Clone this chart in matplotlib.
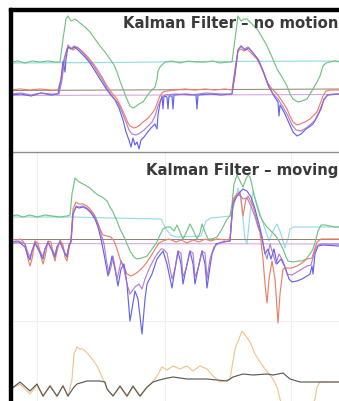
import matplotlib.pyplot as plt
from matplotlib.patches import Rectangle
from matplotlib.lines import Line2D

# ---- still sensor (top) : time index vs reading ----
still_green_t = [0, 7, 14, 21, 29, 37, 44, 49, 52, 55, 57, 60, 64, 69, 74, 79, 84, 89, 94, 99, 103, 106,
                 109, 112, 115, 119, 122, 124, 128, 132, 136, 139, 144, 146, 147, 149, 151, 154, 161, 169,
                 177, 185, 194, 202, 209, 217, 221, 224, 227, 230, 233, 236, 241, 246, 251, 256, 261, 266,
                 271, 276, 279, 282, 287, 291, 296, 299, 302, 306, 309, 312, 315, 319, 324, 328]
still_green_v = [28, 29, 27, 29, 28, 29, 28, 28, 51, 71, 74, 69, 71, 67, 63, 58, 51, 44, 38, 31, 25, 18,
                 9, 1, -7, -16, -18, -17, -14, -12, -6, -2, 3, 11, 19, 23, 25, 28, 29, 27,
                 29, 28, 28, 29, 27, 28, 28, 51, 74, 69, 71, 71, 66, 61, 53, 44, 33, 21,
                 13, 4, -4, -9, -12, -11, -9, -4, 1, 8, 14, 24, 27, 28, 29, 28]

still_cyan_t = [0, 100, 200, 328]
still_cyan_v = [27, 27.5, 28.5, 29]

still_red_t = [0, 9, 19, 29, 39, 47, 50, 53, 56, 59, 62, 66, 71, 76, 81, 86, 91, 96, 101, 106, 110, 114,
               117, 119, 123, 126, 129, 132, 136, 139, 142, 144, 147, 149, 152, 156, 164, 174, 184, 194,
               204, 214, 221, 224, 227, 230, 233, 236, 241, 246, 251, 256, 261, 266, 271, 276, 279, 282,
               286, 289, 294, 299, 303, 306, 309, 312, 315, 319, 328]
still_red_v = [0, 1, 0, 1, 0, 0, 11, 31, 41, 43, 40, 43, 39, 34, 28, 21, 13, 4, -3, -9, -17, -26,
               -33, -36, -38, -37, -35, -32, -29, -26, -22, -19, -11, -6, -2, -1, 0, 1, 0, 1,
               0, 1, 0, 21, 39, 41, 39, 41, 36, 31, 21, 8, 1, -4, -11, -19, -26, -32,
               -35, -34, -32, -29, -25, -22, -14, -6, -1, 0, 0]

still_purple_t = [0, 10, 20, 30, 40, 48, 51, 54, 57, 60, 63, 67, 72, 77, 82, 87, 92, 97, 102, 107, 111,
                  115, 118, 121, 125, 129, 133, 137, 141, 144, 147, 150, 154, 165, 180, 195, 210, 221,
                  224, 227, 230, 233, 237, 242, 247, 252, 257, 262, 267, 272, 277, 281, 285, 290, 295,
                  300, 304, 308, 312, 316, 322, 328]
still_purple_v = [-4, -3, -5, -3, -4, -4, 10, 33, 45, 41, 44, 42, 37, 31, 25, 17, 9, 0, -7, -13, -22,
                  -32, -40, -44, -45, -43, -40, -36, -32, -26, -16, -9, -5, -4, -5, -3, -4, -4,
                  18, 40, 44, 41, 43, 37, 31, 19, 5, -4, -9, -17, -26, -35, -40, -41, -38,
                  -34, -30, -22, -12, -5, -4, -4]

still_blue_t = [0, 10, 20, 30, 40, 47, 50, 52, 54, 55, 57, 60, 64, 69, 74, 79, 84, 89, 94, 99, 104, 108,
                112, 115, 118, 120, 122, 124, 126, 128, 130, 133, 136, 140, 144, 146, 147, 149, 151, 152,
                153, 156, 157, 158, 161, 162, 163, 175, 185, 186, 187, 200, 210, 221, 224, 227, 230, 234,
                238, 243, 248, 253, 258, 263, 267, 268, 269, 273, 278, 282, 286, 290, 294, 298, 302, 306,
                310, 313, 317, 328]
still_blue_v = [-5, -4, -6, -3, -5, -4, 10, 29, 18, 31, 43, 41, 43, 38, 33, 27, 19, 11, 3, -4, -10, -18,
                -30, -42, -50, -57, -48, -55, -52, -59, -50, -47, -43, -38, -34, -39, -25, -13, -6, -19,
                -6, -7, -19, -6, -6, -19, -5, -4, -5, -19, -5, -4, -5, -4, 15, 40, 44, 40,
                42, 36, 29, 17, 3, -6, -12, -26, -15, -22, -33, -42, -46, -44, -40, -37, -34, -27,
                -19, -9, -5, -4]

still_gray_t = [0, 328]
still_gray_v = [-0.5, 1]
still_plum_t = [0, 328]
still_plum_v = [-5.5, -4.5]

# ---- moving sensor (bottom) ----
move_green_t = [0, 6, 12, 19, 26, 34, 41, 49, 56, 59, 61, 64, 67, 70, 74, 79, 83, 87, 91, 96, 99, 102, 106,
                109, 114, 119, 123, 126, 131, 136, 141, 146, 149, 152, 156, 159, 163, 166, 169, 172, 175,
                179, 183, 186, 189, 191, 194, 197, 201, 206, 211, 216, 219, 221, 223, 226, 229, 232, 235,
                237, 239, 241, 243, 246, 249, 253, 256, 260, 264, 268, 272, 275, 277, 282, 287, 291, 295,
                299, 302, 305, 307, 310, 314, 319, 324, 328]
move_green_v = [23, 24, 22, 24, 22, 24, 23, 22, 23, 24, 45, 61, 58, 56, 54, 51, 47, 44, 42, 38, 32, 27, 18,
                10, 0, -12, -18, -20, -19, -17, -10, -3, 4, 10, 12, 12, 8, 14, 7, 0, 6,
                15, 7, 0, 6, 15, 7, 0, 0, 2, 10, 20, 23, 35, 55, 64, 58, 52, 60,
                64, 62, 54, 44, 33, 23, 16, 12, 8, 4, -2, -10, -18, -22, -23, -22, -22, -20,
                -15, -10, 0, 8, 14, 14, 13, 12, 12]

move_cyan_t = [0, 60, 100, 150, 155, 160, 165, 190, 195, 200, 210, 219, 222, 227, 230, 234, 236, 239, 242,
               246, 250, 254, 258, 262, 266, 270, 274, 277, 279, 282, 328]
move_cyan_v = [22, 22, 21, 20, 10, 4, 2, 3, 18, 21, 22, 23, 30, 51, 40, 0, -5, 25, 48,
               35, 22, 10, -2, 8, 15, 5, -9, 0, 10, 12, 12]

move_red_t = [0, 5, 10, 14, 17, 19, 21, 24, 27, 30, 32, 34, 37, 40, 42, 44, 46, 49, 52, 54, 56, 58, 60,
              62, 65, 68, 72, 76, 79, 83, 86, 89, 92, 96, 100, 103, 106, 109, 113, 116, 120, 124, 128,
              132, 136, 140, 144, 148, 152, 158, 165, 170, 176, 182, 188, 194, 200, 206, 214, 219, 222,
              226, 229, 232, 235, 237, 242, 249, 252, 254, 256, 258, 261, 264, 267, 269, 272, 276, 281,
              286, 291, 296, 301, 303, 306, 310, 328]
move_red_v = [0, -1, 0, -5, -20, -27, -20, -2, -4, -18, -25, -18, -2, -3, -15, -22, -12, -1, -6, -18, -22,
              -10, 0, 30, 37, 35, 35, 33, 30, 25, 18, 10, 4, 3, 2, -2, -10, -20, -28, -35, -37, -35, -32,
              -28, -23, -17, -10, -4, -2, 0, -3, -1, -4, -1, -3, 0, -2, 0, -1, 0, 40,
              45, 47, 23, 40, 43, 33, 7, -20, -45, -64, -40, -22, -40, -84, -55, -30, -29, -29,
              -27, -24, -20, -19, -12, -3, 0, 0]

move_purple_t = [0, 8, 14, 17, 19, 21, 24, 30, 32, 34, 37, 42, 44, 46, 49, 54, 56, 58, 60, 62, 65, 68, 72,
                 76, 80, 84, 87, 90, 93, 96, 98, 100, 102, 104, 106, 108, 110, 113, 116, 119, 124, 128,
                 131, 134, 138, 142, 146, 150, 152, 156, 161, 164, 167, 170, 172, 175, 179, 182, 184,
                 187, 191, 194, 196, 199, 203, 208, 212, 219, 222, 226, 229, 232, 236, 240, 244, 247,
                 250, 253, 256, 259, 262, 265, 268, 272, 276, 281, 286, 291, 296, 300, 303, 306, 310, 328]
move_purple_v = [-3, -2, -5, -14, -18, -12, -3, -14, -17, -10, -3, -12, -16, -8, -3, -14, -16, -6, -3, 25,
                 33, 32, 33, 31, 27, 22, 15, 5, -5, -25, -35, -28, -17, -28, -40, -32, -22, -30, -45,
                 -55, -48, -45, -50, -40, -30, -22, -15, -10, -10, -14, -40, -30, -12, -14, -38, -30,
                 -12, -14, -38, -30, -12, -14, -40, -20, -8, -4, -3, -2, 38, 43, 44, 40, 41, 33, 22,
                 12, 5, -10, -20, -5, -15, -25, -15, -22, -35, -36, -33, -30, -27, -26, -15, -7, -5, -5]

move_blue_t = [0, 8, 14, 17, 19, 21, 24, 30, 32, 34, 37, 42, 44, 46, 49, 54, 56, 58, 60, 62, 65, 68, 72,
               76, 80, 84, 87, 90, 93, 97, 101, 104, 107, 110, 113, 116, 119, 124, 127, 131, 134, 136,
               141, 146, 152, 156, 161, 164, 167, 170, 172, 175, 179, 182, 184, 187, 191, 194, 196, 199,
               201, 205, 212, 219, 222, 226, 229, 232, 236, 240, 244, 248, 251, 254, 257, 260, 263, 266,
               270, 274, 278, 281, 286, 291, 296, 299, 301, 302, 304, 307, 312, 328]
move_blue_v = [-3, -3, -8, -17, -21, -12, -4, -16, -20, -10, -3, -14, -18, -8, -3, -15, -18, -6, -3, 25,
               32, 31, 32, 30, 26, 20, 12, 0, -15, -37, -17, -30, -47, -30, -25, -45, -82, -52, -60,
               -95, -60, -45, -35, -20, -12, -25, -49, -30, -12, -25, -45, -30, -12, -25, -45, -30,
               -12, -25, -49, -28, -15, -5, -3, -2, 35, 43, 47, 50, 48, 42, 30, 15, 2, -15, -10,
               -20, -10, -25, -20, -28, -40, -43, -42, -40, -37, -35, -27, -35, -15, -7, -6, -7]

move_gray_t = [0, 328]
move_gray_v = [0.5, 0.5]
move_plum_t = [0, 328]
move_plum_v = [-4.5, -5]

move_orange_t = [0, 9, 19, 26, 32, 39, 46, 52, 57, 61, 63, 66, 69, 72, 79, 86, 92, 96, 102, 109, 116, 122,
                 129, 135, 140, 146, 151, 156, 162, 169, 176, 182, 189, 196, 202, 209, 219, 224, 228, 231,
                 235, 239, 244, 249, 254, 258, 262, 266, 269, 272, 300, 304, 306, 309, 328]
move_orange_v = [-150, -145, -155, -146, -158, -146, -158, -146, -158, -140, -115, -108, -110, -110, -117,
                 -127, -140, -150, -157, -148, -158, -148, -158, -150, -145, -137, -128, -131, -127, -130,
                 -127, -132, -127, -130, -137, -143, -140, -110, -100, -92, -97, -103, -115, -123, -130,
                 -135, -140, -148, -160, -170, -170, -160, -148, -143, -143]

move_dark_t = [0, 9, 19, 26, 32, 39, 46, 52, 57, 63, 66, 76, 89, 94, 96, 102, 109, 116, 122, 129, 136, 142,
               152, 162, 176, 196, 216, 222, 232, 242, 256, 262, 272, 279, 289, 309, 328]
move_dark_v = [-150, -143, -152, -145, -157, -147, -157, -147, -157, -148, -145, -142, -142, -143, -150,
               -157, -147, -157, -147, -157, -148, -143, -140, -138, -140, -140, -142, -138, -135, -136,
               -135, -136, -134, -140, -143, -143, -143]

W, H = 339, 402
fig = plt.figure(figsize=(W / 100, H / 100), dpi=100)
fig.patch.set_facecolor('white')

ax1 = fig.add_axes([11 / W, 1 - 152 / H, 328 / W, 141 / H])
ax2 = fig.add_axes([11 / W, 0, 328 / W, 249 / H])

lw = 0.85
c_green, c_cyan, c_red = '#74c283', '#95dce8', '#ec8068'
c_blue, c_purple = '#6464ee', '#a66ac6'
c_gray, c_plum = '#8c8070', '#d6a8e0'

ax1.plot(still_cyan_t, still_cyan_v, color=c_cyan, lw=lw)
ax1.plot(still_gray_t, still_gray_v, color=c_gray, lw=0.7)
ax1.plot(still_plum_t, still_plum_v, color=c_plum, lw=0.8)
ax1.plot(still_green_t, still_green_v, color=c_green, lw=lw)
ax1.plot(still_red_t, still_red_v, color=c_red, lw=lw)
ax1.plot(still_blue_t, still_blue_v, color=c_blue, lw=lw)
ax1.plot(still_purple_t, still_purple_v, color=c_purple, lw=lw, alpha=0.85)
ax1.set_xlim(0, 328)
ax1.set_ylim(-61, 80)

ax2.plot(move_cyan_t, move_cyan_v, color=c_cyan, lw=lw)
ax2.plot(move_gray_t, move_gray_v, color=c_gray, lw=0.7)
ax2.plot(move_plum_t, move_plum_v, color=c_plum, lw=0.8)
ax2.plot(move_green_t, move_green_v, color=c_green, lw=lw)
ax2.plot(move_red_t, move_red_v, color=c_red, lw=lw)
ax2.plot(move_blue_t, move_blue_v, color=c_blue, lw=lw)
ax2.plot(move_purple_t, move_purple_v, color=c_purple, lw=lw, alpha=0.85)
ax2.plot(move_orange_t, move_orange_v, color='#f3c48e', lw=lw)
ax2.plot(move_dark_t, move_dark_v, color='#5a5a5a', lw=lw)
ax2.set_xlim(0, 328)
ax2.set_ylim(-162, 87)
ax2.set_xticks([26, 154, 280])
ax2.set_yticks([-82])
ax2.grid(True, color='#f0f0f0', lw=0.8)

for ax in (ax1, ax2):
    ax.set_facecolor('none')
    ax.tick_params(left=False, bottom=False, labelleft=False, labelbottom=False)
    for s in ax.spines.values():
        s.set_visible(False)
    ax.set_axisbelow(True)

# slide frame and panel divider
fig.patches.append(Rectangle((8.5 / W, 0), 3 / W, 1 - 8.5 / H, transform=fig.transFigure,
                             color='black', zorder=5))
fig.patches.append(Rectangle((8.5 / W, 1 - 11.5 / H), 1, 3 / H, transform=fig.transFigure,
                             color='black', zorder=5))
fig.add_artist(Line2D([11 / W, 1], [1 - 152.5 / H] * 2, color='#8f8f8f', lw=1.0))

fig.text(123 / W, 1 - 28 / H, 'Kalman Filter – no motion', fontsize=10.7, fontweight='bold',
         color='#3a3a3a', va='baseline', ha='left')
fig.text(146 / W, 1 - 175 / H, 'Kalman Filter – moving', fontsize=10.7, fontweight='bold',
         color='#3a3a3a', va='baseline', ha='left')

fig.savefig('out.png', dpi=100)
